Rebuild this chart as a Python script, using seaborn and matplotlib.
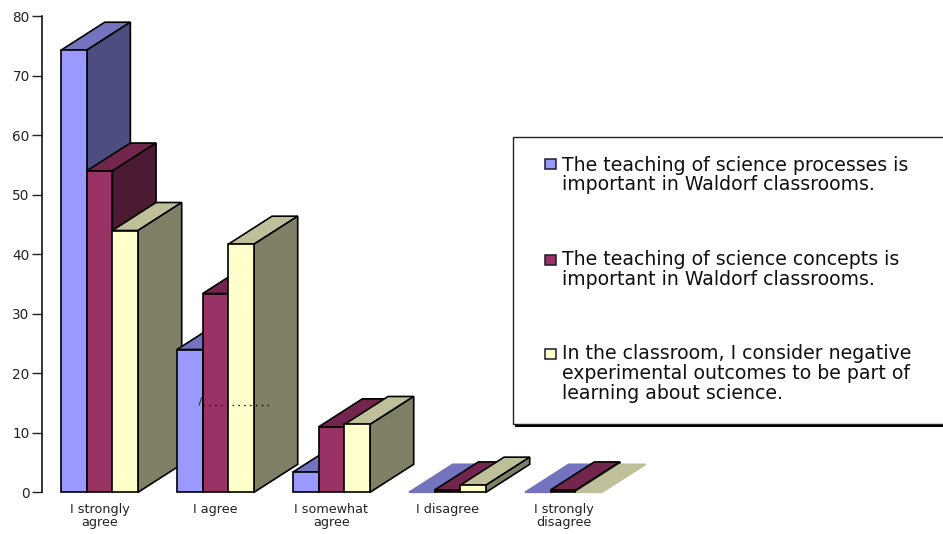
import matplotlib
matplotlib.use("Agg")
import matplotlib.pyplot as plt
import numpy as np
import pandas as pd
import seaborn as sns
from matplotlib.lines import Line2D
from matplotlib.patches import Polygon, Rectangle

categories = ["I strongly\nagree", "I agree", "I somewhat\nagree", "I disagree", "I strongly\ndisagree"]
series_names = [
    "The teaching of science processes is\nimportant in Waldorf classrooms.",
    "The teaching of science concepts is\nimportant in Waldorf classrooms.",
    "In the classroom, I consider negative\nexperimental outcomes to be part of\nlearning about science.",
]
processes = [74.3, 24.0, 3.4, 0.0, 0.0]
concepts = [54.0, 33.4, 11.0, 0.4, 0.4]
negative = [44.0, 41.7, 11.4, 1.2, 0.0]
colors = ["#9999FF", "#993366", "#FFFFCC"]
yticks = [0, 10, 20, 30, 40, 50, 60, 70, 80]

W, H = 943, 534


def fx(px):
    return px / W


def fy(py):
    return 1 - py / H


sns.set_style("white")
# the reference text is wide, DejaVu is closer to it than Liberation
plt.rcParams["font.family"] = ["DejaVu Sans"]

df = pd.DataFrame(
    {
        "category": categories * 3,
        "series": np.repeat(series_names, len(categories)),
        "value": processes + concepts + negative,
    }
)

fig = plt.figure(figsize=(W / 100, H / 100), dpi=100)
ax = fig.add_axes([fx(41.5), fy(492.3), fx(580), (492.3 - 16.3) / H])
sns.barplot(
    data=df, x="category", y="value", hue="series", hue_order=series_names, order=categories,
    palette=colors, saturation=1, width=0.664, gap=0, legend=False, ax=ax,
    edgecolor="black", linewidth=1.2,
)
ax.set_xlim(-0.5, 4.5)
ax.set_ylim(0, 80)
ax.set_xlabel("")
ax.set_ylabel("")
ax.set_yticks(yticks)
ax.tick_params(axis="y", length=7, width=1, color="#222222", labelsize=9.8, pad=1.5, left=True, labelcolor="#222222")
ax.tick_params(axis="x", length=0, labelsize=9.2, pad=7.5, labelcolor="#222222")
for label in ax.get_xticklabels():
    label.set_linespacing(0.98)
for side in ["top", "right", "bottom"]:
    ax.spines[side].set_visible(False)
ax.spines["left"].set_color("black")
ax.spines["left"].set_linewidth(1.1)

# fake depth: offsets in pixels turned into data units
dx = 43.7 * 5 / 580
dy = 28 * 80 / 476

bars = [b for c in ax.containers for b in c]
bars.sort(key=lambda b: b.get_x())
z = 3
for b in bars:
    x0, w, h = b.get_x(), b.get_width(), b.get_height()
    face = np.array(b.get_facecolor()[:3])
    top_c, side_c = face * 0.75, face * 0.5
    edge = "black" if h > 0 else top_c
    top = Polygon([(x0, h), (x0 + w, h), (x0 + w + dx, h + dy), (x0 + dx, h + dy)],
                  closed=True, facecolor=top_c, edgecolor=edge, linewidth=1.2, zorder=z, clip_on=False)
    ax.add_patch(top)
    if h > 0:
        side = Polygon([(x0 + w, 0), (x0 + w + dx, dy), (x0 + w + dx, h + dy), (x0 + w, h)],
                       closed=True, facecolor=side_c, edgecolor="black", linewidth=1.2, zorder=z + 1, clip_on=False)
        ax.add_patch(side)
    else:
        b.set_edgecolor("none")
    b.set_zorder(z + 2)
    b.set_clip_on(False)
    z += 3

# stray dotted mark from the original
fig.add_artist(Line2D([fx(203), fx(269)], [fy(404.5), fy(404.5)], color="black", lw=1, dashes=(1, 3.2), zorder=500))
fig.add_artist(Line2D([fx(199), fx(202)], [fy(405), fy(397)], color="#333333", lw=0.8, zorder=500))

# legend box runs off the right edge
fig.add_artist(Rectangle((fx(515), fy(426.5)), fx(440), 2.5 / H, transform=fig.transFigure,
                         facecolor="black", edgecolor="none", zorder=600))
fig.add_artist(Rectangle((fx(512.5), fy(423.5)), fx(440), 286.5 / H, transform=fig.transFigure,
                         facecolor="white", edgecolor="#222222", linewidth=1, zorder=601))
for name, color, center, box_y in zip(series_names, colors, [175, 269.5, 373.5], [159, 255, 349]):
    fig.add_artist(Rectangle((fx(544.5), fy(box_y + 10)), fx(11.5), 10 / H, transform=fig.transFigure,
                             facecolor=color, edgecolor="#1a1a33", linewidth=1.1, zorder=602))
    fig.text(fx(562), fy(center), name, fontsize=13.6, va="center", ha="left", linespacing=1.05,
             color="#111111", zorder=603)

fig.savefig("out.png", dpi=100)
